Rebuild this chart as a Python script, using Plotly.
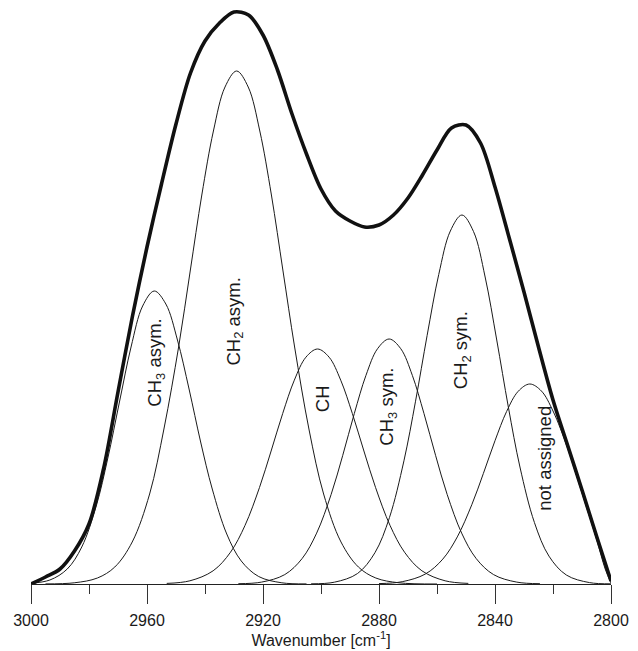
import plotly.graph_objects as go

# ---------------- data ----------------
# Measured C-H stretching band (thick line): wavenumber [cm-1] / absorbance [a.u.]
spectrum_wn = [3000, 2995, 2990, 2985, 2980, 2975, 2970, 2965, 2960, 2955, 2950,
               2945, 2940, 2935, 2930, 2925, 2920, 2915, 2910, 2905, 2900,
               2895, 2890, 2885, 2880, 2875, 2870, 2865, 2860, 2855, 2850,
               2845, 2840, 2835, 2830, 2825, 2820, 2815, 2810, 2805, 2800]
spectrum_abs = [0, 7, 15, 33, 60, 115, 192, 268, 337, 400, 460,
                511, 543, 561, 572, 569, 549, 514, 470, 430, 395,
                373, 363, 357, 359, 369, 386, 409, 434, 456, 459,
                441, 397, 345, 292, 237, 184, 139, 94, 48, 3]

# Fitted component bands (thin lines)
ch3_asym_wn = [3000, 2993.5, 2987.5, 2982.5, 2977.5, 2973.5, 2969.5, 2965.5, 2961.5,
               2957.5, 2953.5, 2949.5, 2945.5, 2941.5, 2937.5, 2932.5, 2927.5,
               2921.5, 2913.5, 2905]
ch3_asym_abs = [0.8, 4, 15, 37, 78, 126, 182, 237, 278,
                293, 280, 244, 195, 142, 95, 50, 23,
                7.5, 1.2, 0.1]

ch2_asym_wn = [2995, 2985.1, 2977.1, 2971.1, 2965.1, 2959.1, 2954.1, 2949.1, 2945.1,
               2941.1, 2937.1, 2933.1, 2929.1, 2925.1, 2921.1, 2917.1, 2913.1,
               2909.1, 2904.1, 2899.1, 2893.1, 2887.1, 2881.1, 2873.1, 2860]
ch2_asym_abs = [0.1, 1.2, 6, 17, 42, 90, 156, 237, 313,
                389, 453, 497, 513, 497, 453, 389, 313,
                237, 154, 90, 42, 17, 6, 1.2, 0]

ch_wn = [2953.2, 2945.2, 2937.2, 2931.2, 2926.2, 2921.2, 2917.2, 2913.2, 2909.2,
         2905.2, 2901.2, 2897.2, 2893.2, 2889.2, 2885.2, 2881.2, 2876.2, 2871.2,
         2865.2, 2857.2, 2849.2]
ch_abs = [0.6, 3.2, 13.2, 31.8, 58.6, 96.6, 133, 170.6, 203.8,
          226.8, 235, 226.8, 203.8, 170.6, 133, 96.6, 58.6, 31.8,
          13.2, 3.2, 0.6]

ch3_sym_wn = [2928.5, 2920.5, 2912.5, 2906.5, 2901.5, 2896.5, 2892.5, 2888.5, 2884.5,
              2880.5, 2876.5, 2872.5, 2868.5, 2864.5, 2860.5, 2856.5, 2851.5,
              2846.5, 2840.5, 2832.5, 2824.5]
ch3_sym_abs = [0.3, 1.9, 9.4, 25.5, 50.9, 89.6, 128.7, 170.6, 208.6,
               235.3, 245, 235.3, 208.6, 170.6, 128.7, 89.6, 50.9,
               25.5, 9.4, 1.9, 0.3]

ch2_sym_wn = [2903.4, 2895.4, 2887.4, 2881.4, 2876.4, 2871.4, 2867.4, 2863.4, 2859.4,
              2855.4, 2851.4, 2847.4, 2843.4, 2839.4, 2835.4, 2831.4, 2826.4,
              2821.4, 2815.4, 2807.4, 2800]
ch2_sym_abs = [0.2, 1.8, 10.5, 31.3, 66.4, 123.2, 182.8, 248.6, 309.5,
               353, 369, 352.4, 307, 244, 177, 117, 61.4,
               27.9, 9.0, 1.4, 0.2]

not_assigned_wn = [2880, 2872, 2864, 2858, 2853, 2848, 2844, 2840, 2836, 2832,
                   2828, 2824, 2820, 2815, 2810, 2805, 2802, 2800]
not_assigned_abs = [0.4, 2.3, 10, 24.9, 47.1, 79.3, 110.6, 143.3, 172.5, 192.7,
                    200, 193, 173, 136, 91, 45, 15, 1]

# Band labels and where they sit (wavenumber, absorbance)
band_labels = ["CH<sub>3</sub> asym.", "CH<sub>2</sub> asym.", "CH",
               "CH<sub>3</sub> sym.", "CH<sub>2</sub> sym.", "not assigned"]
label_wn = [2957.0, 2929.8, 2899.6, 2877.0, 2851.3, 2823.2]
label_abs = [221, 262, 185, 177, 234, 126]

x_ticks = [3000, 2960, 2920, 2880, 2840, 2800]

# ---------------- figure ----------------
FONT = "Liberation Sans, Arial, Helvetica, sans-serif"
fig = go.Figure()

components = [
    (ch3_asym_wn, ch3_asym_abs),
    (ch2_asym_wn, ch2_asym_abs),
    (ch_wn, ch_abs),
    (ch3_sym_wn, ch3_sym_abs),
    (ch2_sym_wn, ch2_sym_abs),
    (not_assigned_wn, not_assigned_abs),
]
for wn, ab in components:
    fig.add_trace(go.Scatter(
        x=wn, y=ab, mode="lines",
        line=dict(color="#1a1a1a", width=1, shape="spline", smoothing=1.0),
        showlegend=False, hoverinfo="skip"))

fig.add_trace(go.Scatter(
    x=spectrum_wn, y=spectrum_abs, mode="lines",
    line=dict(color="#111111", width=3.6, shape="spline", smoothing=0.9),
    showlegend=False, hoverinfo="skip"))

for txt, xw, ya in zip(band_labels, label_wn, label_abs):
    fig.add_annotation(x=xw, y=ya, xref="x", yref="y", text=txt,
                       textangle=-90, showarrow=False,
                       xanchor="center", yanchor="middle",
                       font=dict(family=FONT, size=18.5, color="#1a1a1a"))

fig.update_layout(
    width=638, height=651,
    margin=dict(l=31, r=27, t=5, b=67),
    paper_bgcolor="white", plot_bgcolor="white",
    font=dict(family=FONT, color="#1a1a1a"),
    showlegend=False,
)
fig.update_xaxes(
    range=[3000, 2800],
    tickmode="array", tickvals=x_ticks, ticktext=[str(v) for v in x_ticks],
    ticks="outside", ticklen=19, tickwidth=1.2, tickcolor="#333333",
    minor=dict(dtick=20, tick0=2800, ticks="outside", ticklen=9,
               tickwidth=1.2, tickcolor="#333333"),
    showline=True, linecolor="#222222", linewidth=1.2,
    showgrid=False, zeroline=False,
    ticklabelstandoff=3,
    tickfont=dict(family=FONT, size=16, color="#1a1a1a"),
    title=dict(text="Wavenumber [cm<sup>-1</sup>]",
               font=dict(family=FONT, size=16, color="#1a1a1a"),
               standoff=0),
)
fig.update_yaxes(range=[0, 579], visible=False, showgrid=False, zeroline=False)

fig.write_html("out.html")
